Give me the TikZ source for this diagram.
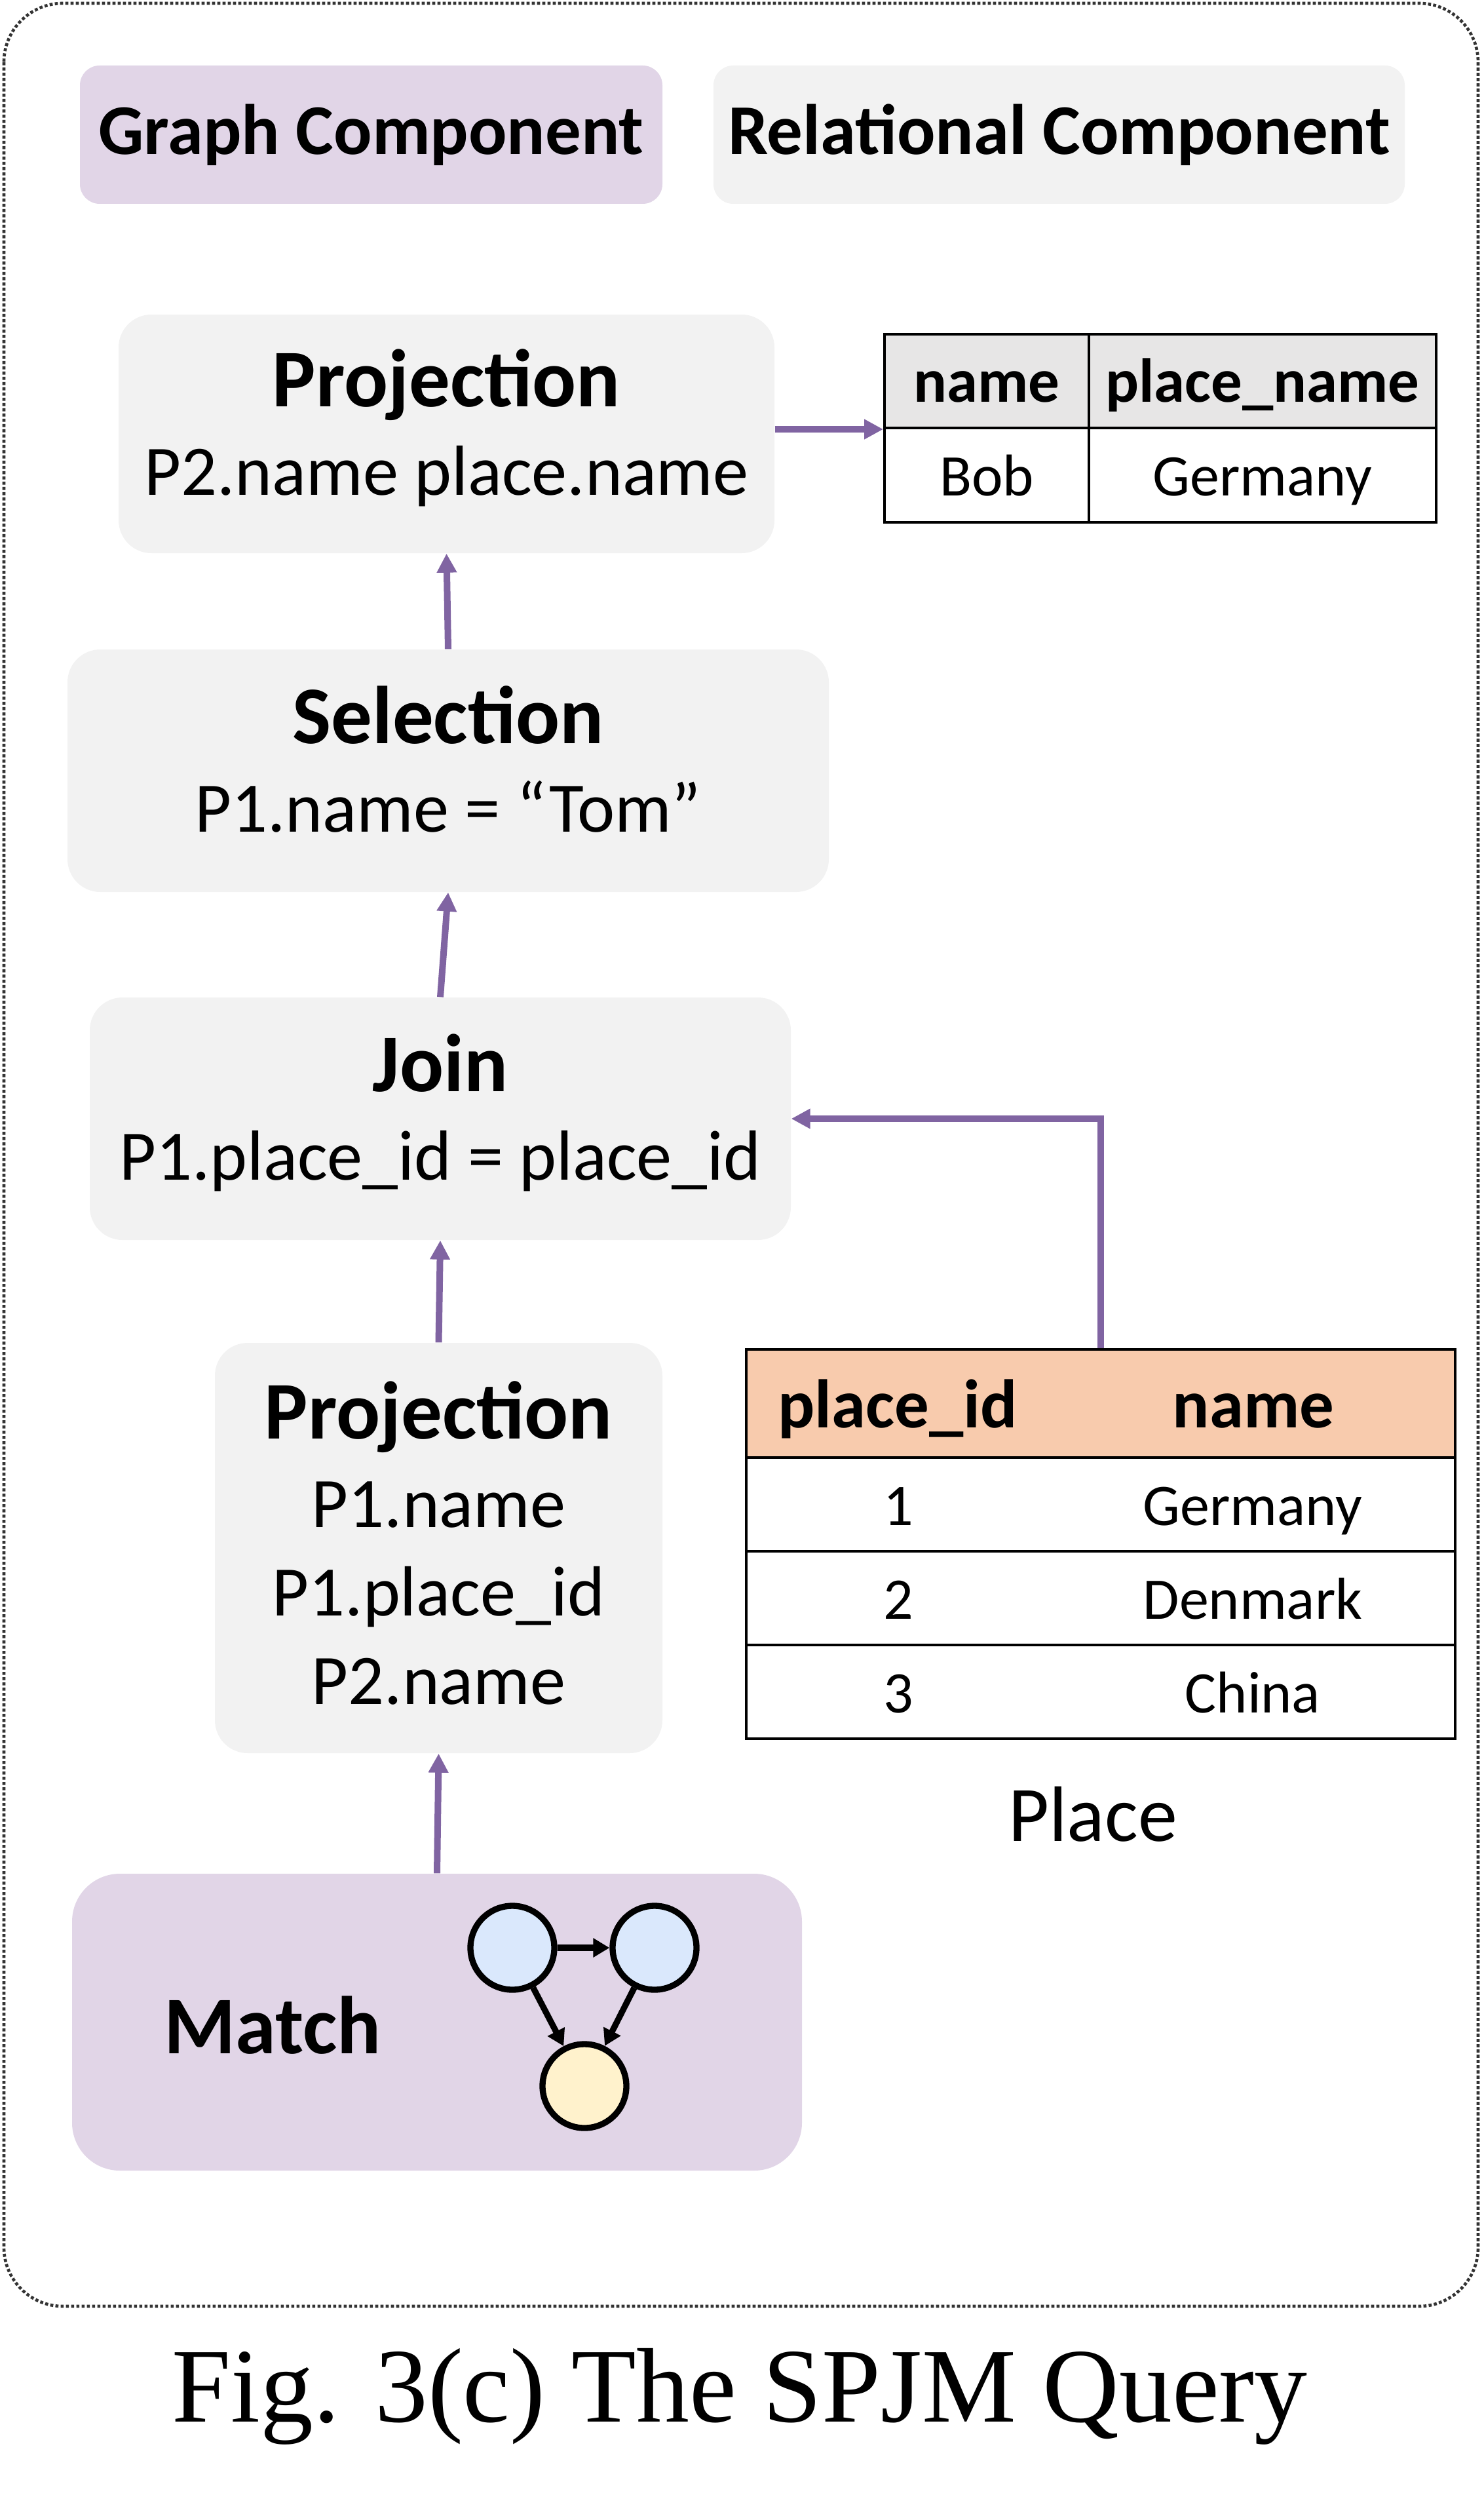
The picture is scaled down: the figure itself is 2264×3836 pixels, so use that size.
\documentclass[tikz,border=0pt]{standalone}
\usepackage{fontspec}
\setmainfont{Carlito}
\newfontfamily\capfont{Liberation Serif}
\usetikzlibrary{arrows.meta}
\newdimen\px \px=0.3pt

\definecolor{graphc}{HTML}{E1D5E7}
\definecolor{relc}{HTML}{F2F2F2}
\definecolor{headc}{HTML}{E7E6E6}
\definecolor{peach}{HTML}{F8CBAD}
\definecolor{flowc}{HTML}{8064A2}
\definecolor{vblue}{HTML}{DAE8FC}
\definecolor{vyel}{HTML}{FFF2CC}

\newcommand{\optitle}[1]{{\bfseries\fontsize{37.5}{40.5}\selectfont #1}}

\tikzset{
  legend/.style={rounded corners=30\px, minimum height=211\px, inner sep=0pt,
    font=\bfseries\fontsize{32.7}{36}\selectfont},
  opbox/.style={fill=relc, rounded corners=50\px, inner sep=0pt, align=center,
    font=\fontsize{32.5}{40.5}\selectfont, execute at end node={\rule[-#1]{0pt}{0pt}}},
  opbox/.default=11pt,
  cell/.style={draw, line width=1.2pt, inner sep=0pt, text height=23pt, text depth=4pt,
    font=\fontsize{27}{30}\selectfont},
  ptext/.style={inner sep=0pt, text height=23pt, text depth=4pt,
    font=\fontsize{27}{30}\selectfont},
  phtext/.style={inner sep=0pt, text height=26pt, text depth=4pt,
    font=\bfseries\fontsize{31.5}{34}\selectfont},
  flow/.style={draw=flowc, line width=3pt, -{Triangle[length=8.7pt,width=8.7pt]}},
  vertex/.style={circle, draw, line width=2.8pt, minimum size=128\px, inner sep=0pt},
  edge/.style={line width=2.8pt, -{Triangle[length=7.5pt,width=8.4pt]}},
}

\begin{document}
\begin{tikzpicture}[x=0.3pt, y=-0.3pt]
    \useasboundingbox (0,0) rectangle (2264,3836);
    \draw[black!80, line width=1.4pt, dash pattern=on 1.4pt off 1pt, rounded corners=90\px] (6,5) rectangle (2256,3519);
    % legend
    \node[legend, fill=graphc, minimum width=889\px] (gcomp) at (566.5,205.5) {Graph Component};
    \node[legend, fill=relc, minimum width=1055\px] (rcomp) at (1616.5,205.5) {Relational Component};
    % operators
    \node[opbox, minimum width=1001\px, minimum height=364\px] (proj1) at (681.5,662) {\optitle{Projection}\\P2.name place.name};
    \node[opbox, minimum width=1162\px, minimum height=370\px] (sel) at (684,1176) {\optitle{Selection}\\P1.name = “Tom”};
    \node[opbox, minimum width=1070\px, minimum height=370\px] (join) at (672,1707) {\optitle{Join}\\P1.place\_id = place\_id};
    \node[opbox=5pt, minimum width=683\px, minimum height=626\px] (proj2) at (669.5,2362) {\optitle{Projection}\\P1.name\\P1.place\_id\\P2.name};
    \node[fill=graphc, rounded corners=73\px, minimum width=1114\px, minimum height=453\px] (match) at (667,3085.5) {};
    \node[anchor=base, font=\bfseries\fontsize{37.5}{40}\selectfont] (mtext) at (416,3133) {Match};
    % pattern
    \node[vertex, fill=vblue] (v1) at (782,2972) {};
    \node[vertex, fill=vblue] (v2) at (999,2972) {};
    \node[vertex, fill=vyel] (v3) at (892,3183) {};
    \draw[edge] (v1) -- (v2);
    \draw[edge] (v1) -- (v3);
    \draw[edge] (v2) -- (v3);
    % result table
    \node[cell, fill=headc, minimum width=312\px, minimum height=143\px, font=\bfseries\fontsize{28.5}{30}\selectfont] (h1) at (1506,581.5) {name};
    \node[cell, fill=headc, minimum width=530\px, minimum height=143\px, font=\bfseries\fontsize{28.5}{30}\selectfont] (h2) at (1927,581.5) {place\_name};
    \node[cell, minimum width=312\px, minimum height=144\px] (c1) at (1506,725) {Bob};
    \node[cell, minimum width=530\px, minimum height=144\px] (c2) at (1927,725) {Germany};
    % place table
    \node[cell, fill=peach, minimum width=1082\px, minimum height=165\px] (phead) at (1680,2141.5) {};
    \node[cell, minimum width=1082\px, minimum height=143\px] (prow1) at (1680,2295.5) {};
    \node[cell, minimum width=1082\px, minimum height=143\px] (prow2) at (1680,2438.5) {};
    \node[cell, minimum width=1082\px, minimum height=143\px] (prow3) at (1680,2581.5) {};
    \node[phtext] (pid) at (1370,2141.5) {place\_id};
    \node[phtext] (pname) at (1913,2141.5) {name};
    \node[ptext] (id1) at (1371,2295.5) {1};
    \node[ptext] (nm1) at (1912,2295.5) {Germany};
    \node[ptext] (id2) at (1371,2438.5) {2};
    \node[ptext] (nm2) at (1912,2438.5) {Denmark};
    \node[ptext] (id3) at (1371,2581.5) {3};
    \node[ptext] (nm3) at (1912,2581.5) {China};
    \node[anchor=base, font=\fontsize{36}{38}\selectfont] (plabel) at (1668,2809) {Place};
    % flow
    \draw[flow] (proj1.east |- h1.south) -- (h1.south west);
    \draw[flow] (sel.north) -- (proj1.south);
    \draw[flow] (join.north) -- (sel.south);
    \draw[flow] (proj2.north) -- (join.south);
    \draw[flow] (match.north) -- (proj2.south);
    \draw[flow] (phead.north) |- (join.east);
    % caption
    \node[anchor=base, font=\capfont\fontsize{48.5}{55}\selectfont] (caption) at (1129,3695) {Fig. 3(c) The SPJM Query};
\end{tikzpicture}
\end{document}
